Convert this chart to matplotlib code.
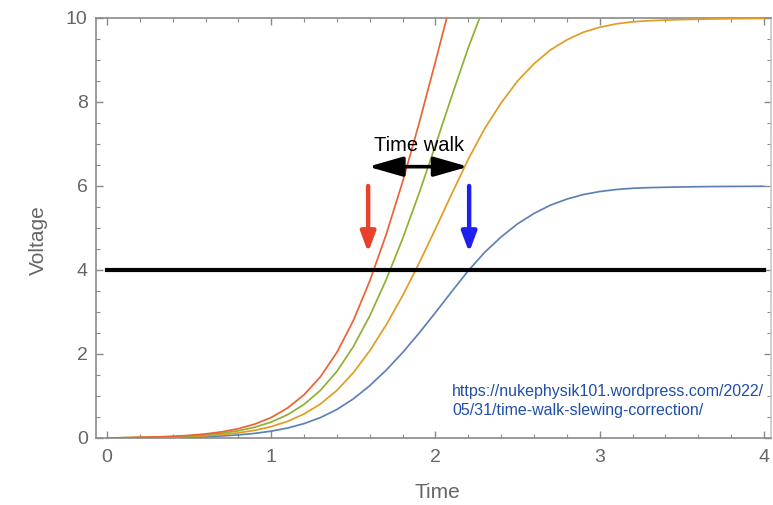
import matplotlib
matplotlib.use("Agg")
import matplotlib.pyplot as plt
from matplotlib.ticker import MultipleLocator

plt.rcParams['font.family'] = ['Liberation Sans', 'DejaVu Sans']

# ---- data ----
time = [0.0, 0.1, 0.2, 0.3, 0.4, 0.5, 0.6, 0.7, 0.8, 0.9,
        1.0, 1.1, 1.2, 1.3, 1.4, 1.5, 1.6, 1.7, 1.8, 1.9,
        2.0, 2.1, 2.2, 2.3, 2.4, 2.5, 2.6, 2.7, 2.8, 2.9,
        3.0, 3.1, 3.2, 3.3, 3.4, 3.5, 3.6, 3.7, 3.8, 3.9, 4.0]

blue = [0.0, 0.0024, 0.0052, 0.0086, 0.0135, 0.0209, 0.0322, 0.049, 0.0739, 0.110,
        0.163, 0.238, 0.343, 0.487, 0.680, 0.932, 1.246, 1.616, 2.034, 2.496,
        2.988, 3.492, 3.984, 4.422, 4.788, 5.10, 5.346, 5.544, 5.688, 5.796,
        5.868, 5.916, 5.946, 5.961, 5.97, 5.977, 5.983, 5.987, 5.990, 5.992, 5.994]

orange = [0.0, 0.004, 0.0087, 0.0143, 0.0225, 0.0349, 0.0537, 0.0817, 0.123, 0.184,
          0.271, 0.397, 0.572, 0.811, 1.134, 1.554, 2.077, 2.693, 3.39, 4.16,
          4.98, 5.82, 6.64, 7.37, 7.98, 8.50, 8.91, 9.24, 9.48, 9.66,
          9.78, 9.86, 9.91, 9.935, 9.95, 9.962, 9.971, 9.978, 9.983, 9.987, 9.99]

green = [0.0, 0.0056, 0.0122, 0.020, 0.0315, 0.0489, 0.0752, 0.114, 0.172, 0.257,
         0.380, 0.556, 0.801, 1.135, 1.588, 2.176, 2.908, 3.770, 4.746, 5.824,
         6.972, 8.148, 9.296, 10.318, 11.172]

red = [0.0, 0.0072, 0.0157, 0.0257, 0.0405, 0.0628, 0.0967, 0.147, 0.222, 0.331,
       0.488, 0.715, 1.030, 1.460, 2.041, 2.797, 3.739, 4.847, 6.102, 7.488,
       8.964, 10.476, 11.952]

threshold = 4.0
red_arrow_t = 1.59
blue_arrow_t = 2.205
walk_start, walk_end = 1.59, 2.20
walk_level = 6.46

x_ticks = [0, 1, 2, 3, 4]
y_ticks = [0, 2, 4, 6, 8, 10]

# ---- figure ----
W, H = 773, 505
fig = plt.figure(figsize=(W / 100, H / 100), dpi=100)
left, right, top, bottom = 96, 771, 18, 438
ax = fig.add_axes([left / W, 1 - bottom / H, (right - left) / W, (bottom - top) / H])

for xs, ys, c in [(time, blue, '#5e81b5'),
                  (time, orange, '#e19c24'),
                  (time[:len(green)], green, '#8fb032'),
                  (time[:len(red)], red, '#eb6235')]:
    ax.plot(xs, ys, color=c, lw=1.25, zorder=3,
            solid_joinstyle='round', solid_capstyle='round')

ax.plot([time[0], time[-1]], [threshold, threshold], color='black', lw=3.0, zorder=4)

# arrows
ax.annotate('', xy=(red_arrow_t, 4.42), xytext=(red_arrow_t, 6.0),
            arrowprops=dict(arrowstyle='-|>,head_length=1.2,head_width=0.45',
                            color='#e8402a', lw=3.2, shrinkA=0, shrinkB=0), zorder=5)
ax.annotate('', xy=(blue_arrow_t, 4.42), xytext=(blue_arrow_t, 6.0),
            arrowprops=dict(arrowstyle='-|>,head_length=1.2,head_width=0.45',
                            color='#1f1ff0', lw=3.2, shrinkA=0, shrinkB=0), zorder=5)
ax.annotate('', xy=(walk_end, walk_level), xytext=(walk_start, walk_level),
            arrowprops=dict(arrowstyle='<|-|>,head_length=2.1,head_width=0.6',
                            color='black', lw=2.6, shrinkA=0, shrinkB=0), zorder=5)
ax.text((walk_start + walk_end) / 2 + 0.005, 6.96, 'Time walk', ha='center', va='center',
        fontsize=14.5, color='black', zorder=6)

ax.text(2.10, 0.88, 'https://nukephysik101.wordpress.com/2022/\n05/31/time-walk-slewing-correction/',
        ha='left', va='center', fontsize=11.5, color='#1f4fa8', linespacing=1.3, zorder=6)

ax.set_xlim(-0.067, 4.043)
ax.set_ylim(0, 10)
ax.set_xticks(x_ticks)
ax.set_yticks(y_ticks)
ax.xaxis.set_minor_locator(MultipleLocator(0.2))
ax.yaxis.set_minor_locator(MultipleLocator(0.5))

gray = '#8a8a8a'
for s in ax.spines.values():
    s.set_color(gray)
    s.set_linewidth(1.2)
ax.spines['right'].set_color('#c8c8c8')

ax.tick_params(which='both', direction='in', top=True, right=True, color=gray,
               labelcolor='#666666', labelsize=14)
ax.tick_params(which='major', length=5, width=1.0)
ax.tick_params(which='minor', length=3, width=0.8)
ax.tick_params(axis='x', pad=8)
ax.tick_params(axis='y', pad=6)

ax.set_xlabel('Time', fontsize=15, color='#666666')
ax.set_ylabel('Voltage', fontsize=15, color='#666666')
ax.xaxis.set_label_coords((437 - left) / (right - left), -(492 - bottom) / (bottom - top))
ax.yaxis.set_label_coords((38 - left) / (right - left), (bottom - 240) / (bottom - top))
ax.xaxis.label.set_va('center')
ax.yaxis.label.set_va('center')

fig.savefig('out.png', dpi=100)
